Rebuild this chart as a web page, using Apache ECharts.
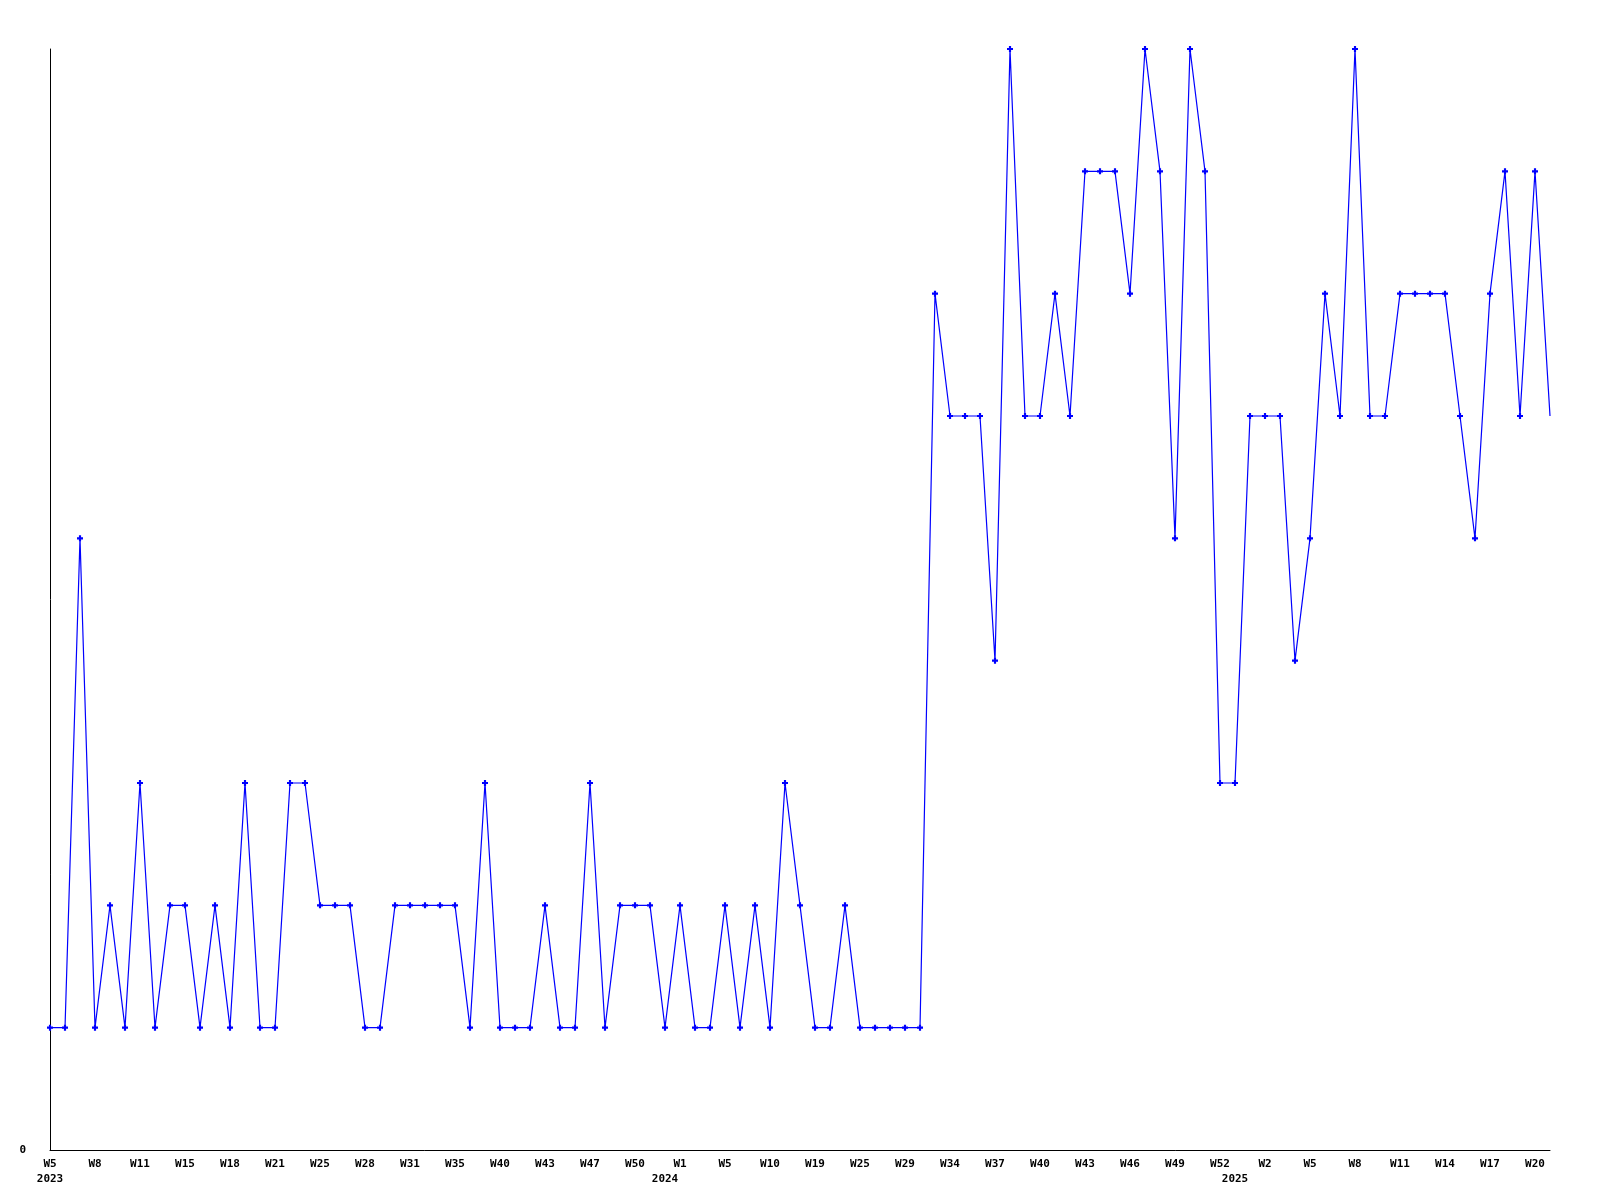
<!DOCTYPE html>
<html>
<head>
<meta charset="utf-8">
<script src="https://cdn.jsdelivr.net/npm/echarts@6/dist/echarts.min.js"></script>
<style>
html,body{margin:0;padding:0;background:#fff;}
#chart{width:1600px;height:1200px;}
</style>
</head>
<body>
<div id="chart"></div>
<script>
// Week categories (one per data point)
const weeks = [
  'W5','W6','W7','W8','W9','W10','W11','W12','W13','W15',
  'W16','W17','W18','W19','W20','W21','W22','W23','W25','W26',
  'W27','W28','W29','W30','W31','W32','W33','W35','W36','W38',
  'W40','W41','W42','W43','W44','W45','W47','W48','W49','W50',
  'W51','W52','W1','W2','W3','W5','W6','W8','W10','W13',
  'W16','W19','W21','W23','W25','W26','W28','W29','W31','W33',
  'W34','W35','W36','W37','W38','W39','W40','W41','W42','W43',
  'W44','W45','W46','W47','W48','W49','W50','W51','W52','W1',
  'W1','W2','W3','W4','W5','W6','W7','W8','W9','W10',
  'W11','W12','W13','W14','W15','W16','W17','W18','W19','W20',
  'W21'
];
// Year labels and the category index where each appears
const years = ['2023','2024','2025'];
const yearIndex = [0, 41, 79];
// Series values
const values = [
  1,1,5,1,2,1,3,1,2,2,
  1,2,1,3,1,1,3,3,2,2,
  2,1,1,2,2,2,2,2,1,3,
  1,1,1,2,1,1,3,1,2,2,
  2,1,2,1,1,2,1,2,1,3,
  2,1,1,2,1,1,1,1,1,7,
  6,6,6,4,9,6,6,7,6,8,
  8,8,7,9,8,5,9,8,3,3,
  6,6,6,4,5,7,6,9,6,6,
  7,7,7,7,6,5,7,8,6,8,
  6
];
const yTicks = [0];

const chart = echarts.init(document.getElementById('chart'), null, {renderer:'canvas'});
const font = 'DejaVu Sans Mono';
chart.setOption({
  animation: false,
  backgroundColor: '#ffffff',
  grid: {left: 50, right: 50, top: 49, bottom: 50, containLabel: false},
  xAxis: {
    type: 'category',
    data: weeks,
    boundaryGap: false,
    axisLine: {show: true, lineStyle: {color: '#000', width: 1}},
    axisTick: {show: false},
    splitLine: {show: false},
    axisLabel: {
      color: '#000',
      fontFamily: font,
      fontWeight: 'bold',
      fontSize: 11,
      lineHeight: 15,
      margin: 7,
      interval: function (idx) { return idx % 3 === 0 || yearIndex.indexOf(idx) >= 0; },
      formatter: function (value, idx) {
        const w = idx % 3 === 0 ? value : '';
        const k = yearIndex.indexOf(idx);
        return k >= 0 ? w + '\n' + years[k] : w;
      }
    }
  },
  yAxis: {
    type: 'value',
    min: 0,
    max: 9,
    interval: 9,
    axisLine: {show: true, lineStyle: {color: '#000', width: 1}},
    axisTick: {show: false},
    splitLine: {show: false},
    axisLabel: {
      color: '#000',
      fontFamily: font,
      fontWeight: 'bold',
      fontSize: 11,
      margin: 24,
      formatter: function (v) { return yTicks.indexOf(v) >= 0 ? String(v) : ''; }
    }
  },
  series: [{
    type: 'line',
    data: values.map(function (v, i) { return i === values.length - 1 ? {value: v, symbol: 'none'} : v; }),
    lineStyle: {color: '#0000ff', width: 1.2},
    itemStyle: {color: '#0000ff'},
    symbol: 'path://M1.6,0H3.4V1.6H5V3.4H3.4V5H1.6V3.4H0V1.6H1.6Z',
    symbolSize: 6,
    showAllSymbol: true,
    clip: false
  }]
});
</script>
</body>
</html>
